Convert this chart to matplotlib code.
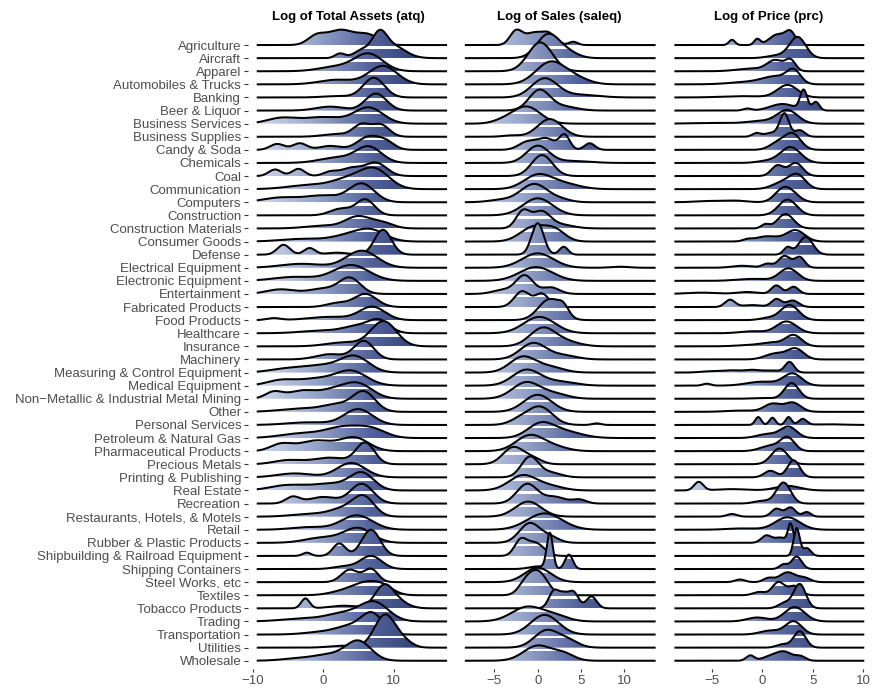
import numpy as np
import matplotlib.pyplot as plt
from matplotlib.colors import LinearSegmentedColormap
from matplotlib.patches import Polygon, Rectangle

plt.rcParams['font.family'] = ['Liberation Sans', 'DejaVu Sans']

industries = [
    "Agriculture", "Aircraft", "Apparel", "Automobiles & Trucks", "Banking",
    "Beer & Liquor", "Business Services", "Business Supplies", "Candy & Soda",
    "Chemicals", "Coal", "Communication", "Computers", "Construction",
    "Construction Materials", "Consumer Goods", "Defense",
    "Electrical Equipment", "Electronic Equipment", "Entertainment",
    "Fabricated Products", "Food Products", "Healthcare", "Insurance",
    "Machinery", "Measuring & Control Equipment", "Medical Equipment",
    "Non\u2212Metallic & Industrial Metal Mining", "Other", "Personal Services",
    "Petroleum & Natural Gas", "Pharmaceutical Products", "Precious Metals",
    "Printing & Publishing", "Real Estate", "Recreation",
    "Restaurants, Hotels, & Motels", "Retail", "Rubber & Plastic Products",
    "Shipbuilding & Railroad Equipment", "Shipping Containers",
    "Steel Works, etc", "Textiles", "Tobacco Products", "Trading",
    "Transportation", "Utilities", "Wholesale",
]

# smoothed density of each industry as bumps: (centre, spread, height in rows)
assets_peaks = [
    [(-1.0, 1.2, 0.6), (2.5, 2.0, 1.15), (6.5, 1.5, 0.7)],
    [(2.4, 0.7, 0.35), (5.6, 1.2, 0.6), (8.0, 1.0, 1.5), (9.8, 1.8, 0.95)],
    [(2.0, 2.5, 0.35), (6.5, 2.0, 1.3)],
    [(2.0, 2.5, 0.35), (8.5, 2.0, 1.4)],
    [(2.0, 2.0, 0.1), (7.2, 1.5, 1.5)],
    [(1.0, 2.0, 0.3), (7.5, 1.5, 1.3)],
    [(-6.0, 2.0, 0.4), (0.0, 3.0, 0.5), (6.5, 2.0, 1.2)],
    [(2.0, 2.0, 0.2), (5.5, 1.2, 0.9), (8.2, 1.2, 0.9)],
    [(-6.5, 1.0, 0.45), (-3.3, 1.0, 0.5), (1.0, 1.5, 0.3), (6.5, 1.6, 1.0), (9.0, 1.2, 0.5)],
    [(2.0, 2.5, 0.4), (6.5, 1.8, 1.2)],
    [(-6.8, 0.9, 0.5), (-3.5, 0.9, 0.55), (1.0, 1.0, 0.3), (4.0, 1.5, 0.6), (7.5, 1.5, 1.0)],
    [(-2.0, 3.0, 0.3), (4.0, 2.5, 0.8), (7.5, 2.0, 1.3)],
    [(-6.0, 2.5, 0.35), (0.0, 2.5, 0.5), (5.5, 1.8, 1.4)],
    [(2.5, 1.5, 0.5), (6.0, 1.3, 1.2)],
    [(0.0, 2.5, 0.2), (5.0, 1.8, 0.9), (8.5, 1.5, 0.4)],
    [(-3.0, 3.0, 0.2), (4.0, 2.5, 0.5), (7.0, 2.0, 0.7)],
    [(-5.6, 0.9, 0.75), (-1.9, 0.8, 0.5), (2.0, 1.5, 0.15), (8.5, 1.2, 1.9)],
    [(-3.0, 3.0, 0.3), (5.5, 2.2, 1.3)],
    [(-4.0, 3.0, 0.3), (4.0, 2.5, 1.2)],
    [(-6.0, 2.0, 0.35), (0.0, 2.0, 0.4), (3.8, 1.5, 1.2)],
    [(2.0, 1.5, 0.3), (6.0, 1.6, 1.0)],
    [(-7.0, 1.0, 0.15), (1.0, 3.0, 0.25), (7.0, 1.8, 1.0)],
    [(0.0, 3.0, 0.2), (5.0, 2.0, 0.5), (8.0, 1.5, 0.9)],
    [(3.0, 2.5, 0.3), (8.6, 1.8, 1.9)],
    [(1.0, 2.0, 0.4), (5.8, 1.4, 1.4)],
    [(-5.0, 2.5, 0.3), (0.0, 2.5, 0.5), (4.5, 2.0, 1.2)],
    [(-6.0, 2.0, 0.4), (-1.0, 2.5, 0.5), (4.0, 2.2, 1.1)],
    [(-7.0, 1.2, 0.5), (-3.0, 2.0, 0.6), (1.5, 2.0, 0.6), (5.0, 2.0, 1.1)],
    [(-3.0, 3.0, 0.25), (2.0, 2.0, 0.5), (5.8, 1.6, 1.5)],
    [(-2.0, 3.0, 0.2), (5.0, 2.0, 1.2)],
    [(-3.0, 3.0, 0.35), (3.0, 2.5, 0.8), (7.0, 2.0, 0.6)],
    [(-6.0, 1.5, 0.5), (-1.0, 2.5, 0.8), (4.5, 2.0, 1.0)],
    [(-5.0, 2.0, 0.3), (1.0, 2.5, 0.5), (6.0, 1.3, 1.6)],
    [(-4.0, 2.5, 0.3), (4.0, 2.0, 1.1)],
    [(-5.0, 2.5, 0.4), (1.0, 2.5, 0.5), (5.5, 1.7, 1.3)],
    [(-4.3, 1.0, 0.5), (0.0, 2.0, 0.5), (5.5, 1.6, 1.5)],
    [(-2.0, 2.5, 0.2), (3.0, 2.0, 0.6), (5.8, 1.5, 1.4)],
    [(-2.0, 2.5, 0.2), (4.8, 2.2, 1.1)],
    [(0.0, 2.5, 0.4), (5.0, 2.0, 1.1)],
    [(-2.3, 0.6, 0.25), (2.3, 0.9, 0.95), (6.8, 1.3, 2.0)],
    [(3.0, 1.5, 0.2), (6.8, 1.5, 1.0)],
    [(3.8, 1.2, 0.95), (6.8, 1.0, 1.0)],
    [(3.0, 2.0, 0.3), (6.0, 1.8, 0.8), (8.5, 1.5, 0.6)],
    [(-2.5, 0.6, 0.75), (3.0, 2.0, 0.2), (8.6, 1.3, 1.6), (10.5, 1.5, 0.5)],
    [(-3.0, 3.0, 0.2), (3.0, 2.5, 0.6), (7.3, 2.0, 1.4)],
    [(0.0, 2.5, 0.2), (4.0, 2.0, 0.6), (7.0, 1.5, 1.5)],
    [(3.0, 2.0, 0.15), (8.8, 1.5, 2.5), (11.5, 1.2, 0.4)],
    [(-3.0, 2.5, 0.2), (1.0, 2.0, 0.4), (5.0, 1.8, 1.5)],
]

sales_peaks = [
    [(-2.5, 0.7, 1.05), (-0.5, 1.0, 0.9), (1.3, 0.8, 0.8), (4.1, 0.5, 0.25)],
    [(1.2, 1.3, 1.8), (3.5, 1.2, 0.4)],
    [(0.3, 1.4, 2.2)],
    [(1.5, 1.7, 1.7), (4.5, 1.5, 0.4)],
    [(0.8, 1.5, 1.45), (5.0, 2.0, 0.2)],
    [(0.2, 1.2, 1.55), (3.0, 1.5, 0.3)],
    [(-4.0, 1.2, 0.2), (-1.3, 1.6, 1.3)],
    [(-3.0, 1.0, 0.1), (1.4, 1.4, 1.35)],
    [(-1.2, 1.0, 0.6), (1.0, 1.0, 0.85), (3.1, 0.6, 1.1), (6.0, 0.6, 0.5)],
    [(0.0, 1.3, 1.3), (4.0, 2.0, 0.15)],
    [(0.5, 1.2, 1.6)],
    [(0.0, 1.6, 1.05), (3.0, 1.8, 0.4)],
    [(-4.0, 1.5, 0.2), (-1.5, 1.2, 0.5), (0.0, 1.3, 1.1), (2.5, 1.2, 0.25)],
    [(0.0, 1.7, 1.3)],
    [(-1.7, 0.8, 1.3), (0.4, 1.0, 1.2), (2.5, 1.5, 0.3)],
    [(-0.5, 1.5, 1.1), (2.0, 1.2, 0.8)],
    [(0.0, 0.7, 2.4), (3.0, 0.5, 0.6)],
    [(0.0, 1.8, 1.1), (9.5, 1.0, 0.08)],
    [(-0.2, 1.9, 1.05)],
    [(-4.0, 1.2, 0.3), (-1.5, 1.0, 1.4), (1.5, 1.0, 0.5)],
    [(-1.8, 0.9, 1.2), (0.5, 0.8, 1.0)],
    [(1.4, 1.3, 1.6), (3.0, 0.6, 0.6)],
    [(0.2, 1.8, 1.25)],
    [(0.6, 1.5, 1.4), (3.5, 1.5, 0.3)],
    [(-0.5, 1.5, 1.25), (3.0, 1.5, 0.3)],
    [(-1.7, 1.5, 1.2), (1.5, 1.5, 0.4)],
    [(-1.3, 1.6, 1.2), (2.5, 1.8, 0.3)],
    [(-1.3, 1.6, 1.25), (2.0, 1.5, 0.35)],
    [(0.0, 1.6, 1.3)],
    [(-2.0, 1.2, 0.4), (0.3, 1.4, 1.35), (6.8, 0.5, 0.12)],
    [(0.3, 1.5, 1.0), (3.0, 2.0, 0.5)],
    [(-0.9, 1.6, 1.2), (2.0, 1.5, 0.3)],
    [(-2.8, 1.2, 1.3), (-0.5, 1.0, 0.4)],
    [(-0.9, 1.0, 1.55), (1.5, 1.2, 0.35)],
    [(-1.7, 1.6, 1.15), (1.5, 1.5, 0.3)],
    [(-1.2, 1.2, 1.5), (2.0, 1.2, 0.5), (4.8, 0.8, 0.3)],
    [(-1.1, 1.5, 1.15)],
    [(0.8, 2.0, 1.25)],
    [(-0.9, 1.2, 1.5), (1.5, 1.0, 0.4)],
    [(-2.0, 0.7, 1.1), (-0.3, 1.0, 1.0)],
    [(0.0, 1.0, 0.2), (1.4, 0.35, 2.7), (3.6, 0.45, 1.1)],
    [(0.0, 1.5, 1.1)],
    [(-1.5, 0.8, 0.6), (0.0, 1.1, 1.8)],
    [(1.9, 0.6, 1.35), (3.0, 0.5, 0.8), (4.1, 0.6, 1.25), (6.2, 0.6, 0.9)],
    [(-1.2, 1.8, 1.1), (2.0, 1.5, 0.4)],
    [(0.8, 1.6, 1.5)],
    [(1.0, 1.4, 1.3), (3.5, 1.2, 0.5)],
    [(0.0, 1.6, 1.15), (3.0, 1.2, 0.5)],
]

price_peaks = [
    [(-3.0, 0.3, 0.4), (-0.5, 0.3, 0.45), (1.5, 0.8, 0.8), (2.8, 0.5, 0.9)],
    [(1.5, 1.0, 0.2), (3.5, 0.8, 1.6)],
    [(-1.0, 1.5, 0.2), (1.3, 0.8, 0.8), (2.8, 0.5, 0.8)],
    [(-1.0, 2.0, 0.2), (1.3, 1.2, 0.5), (3.1, 0.7, 1.0)],
    [(-2.0, 2.0, 0.1), (2.5, 1.0, 0.95)],
    [(-1.5, 0.4, 0.15), (2.0, 1.2, 0.5), (4.1, 0.35, 1.5), (5.3, 0.35, 0.65)],
    [(-5.0, 2.0, 0.05), (0.0, 1.5, 0.2), (2.5, 1.0, 1.0)],
    [(-0.6, 0.4, 0.25), (1.0, 0.8, 0.3), (2.2, 0.45, 1.7), (3.7, 0.5, 0.5)],
    [(1.5, 0.8, 0.5), (3.0, 0.8, 1.2)],
    [(0.5, 1.0, 0.15), (2.8, 1.0, 1.2)],
    [(1.5, 0.6, 0.8), (3.3, 0.7, 1.0)],
    [(2.0, 1.0, 0.5), (3.5, 0.8, 1.0)],
    [(-5.0, 1.5, 0.1), (-2.5, 1.0, 0.1), (2.0, 0.8, 0.9), (3.0, 0.8, 0.5)],
    [(2.5, 0.9, 1.2)],
    [(0.3, 0.4, 0.3), (2.3, 0.8, 1.1)],
    [(-1.5, 0.4, 0.12), (0.5, 1.2, 0.4), (3.3, 0.9, 0.85)],
    [(2.5, 0.4, 0.55), (4.3, 0.7, 1.35)],
    [(-2.0, 1.0, 0.15), (0.5, 0.5, 0.3), (2.2, 0.6, 0.9), (3.7, 0.5, 0.8)],
    [(-1.0, 1.5, 0.15), (2.6, 0.9, 0.95)],
    [(-6.0, 1.5, 0.1), (-1.5, 1.0, 0.15), (1.4, 0.5, 0.65), (3.1, 0.5, 0.55)],
    [(-3.2, 0.5, 0.55), (-1.0, 1.0, 0.15), (1.4, 0.5, 0.6), (3.0, 0.6, 0.5)],
    [(0.5, 0.8, 0.15), (2.7, 0.9, 1.15)],
    [(-1.0, 1.2, 0.15), (2.4, 1.0, 0.9)],
    [(-1.0, 1.5, 0.1), (1.0, 1.0, 0.25), (3.1, 0.8, 0.85)],
    [(1.3, 1.0, 0.45), (3.3, 0.8, 0.8)],
    [(-5.0, 1.0, 0.1), (-3.0, 0.8, 0.15), (-1.0, 0.8, 0.2), (1.0, 0.8, 0.15), (2.7, 0.45, 0.8)],
    [(-5.5, 0.4, 0.15), (0.0, 1.5, 0.3), (3.0, 0.9, 0.9)],
    [(0.0, 1.0, 0.05), (2.9, 0.7, 1.2)],
    [(-2.0, 1.5, 0.1), (1.0, 0.8, 0.6), (3.0, 0.8, 0.7)],
    [(-0.4, 0.3, 0.6), (1.0, 0.3, 0.55), (2.6, 0.3, 0.6), (4.0, 0.4, 0.45), (6.5, 1.5, 0.05)],
    [(0.5, 1.0, 0.3), (2.6, 0.8, 0.85)],
    [(0.8, 1.0, 0.4), (2.5, 0.7, 1.0)],
    [(1.7, 0.8, 1.2)],
    [(0.8, 0.6, 0.5), (3.1, 0.6, 1.3)],
    [(-6.3, 0.45, 0.65), (-3.0, 1.5, 0.1), (2.5, 1.2, 0.35)],
    [(0.0, 0.8, 0.2), (2.1, 0.7, 1.6)],
    [(-3.0, 0.5, 0.2), (1.4, 0.5, 0.6), (2.8, 0.5, 0.7), (4.4, 0.4, 0.35)],
    [(-2.0, 1.5, 0.1), (2.5, 1.2, 0.95)],
    [(0.4, 0.5, 0.55), (1.8, 0.6, 0.4), (2.8, 0.25, 1.4)],
    [(3.4, 0.3, 2.1), (4.4, 0.4, 0.6)],
    [(2.1, 0.4, 0.35), (3.4, 0.5, 0.95)],
    [(-2.2, 0.5, 0.2), (0.6, 0.5, 0.3), (2.5, 0.8, 0.75), (4.2, 0.6, 0.3)],
    [(-0.3, 0.6, 0.25), (1.6, 0.6, 1.0), (3.2, 0.6, 0.7)],
    [(2.2, 0.6, 0.4), (3.7, 0.6, 1.85)],
    [(-0.5, 1.0, 0.3), (3.2, 1.0, 1.1)],
    [(0.8, 1.0, 0.3), (3.1, 0.8, 1.0)],
    [(2.0, 0.6, 0.25), (3.7, 0.6, 1.25)],
    [(-1.2, 0.4, 0.4), (0.8, 0.8, 0.3), (2.2, 0.8, 0.65), (3.8, 0.5, 0.3)],
]

titles = ["Log of Total Assets (atq)", "Log of Sales (saleq)", "Log of Price (prc)"]
spans = [(-9.4, 17.6), (-8.4, 13.6), (-8.7, 10.1)]
xticks = [[-10, 0, 10], [-5, 0, 5, 10], [-5, 0, 5, 10]]

W, H = 878, 691
# panel edges in pixels and the x range each one shows
boxes = [(248, 448), (462, 657), (671, 866)]
xlims = [(-10.64, 17.73), (-8.73, 13.76), (-9.04, 10.27)]
top_px, bot_px = 22, 669
ylim = (-0.63, 48.76)

line_w = 1.45
gap_h = 0.19  # white strip under each ridge line, in rows

cmap = LinearSegmentedColormap.from_list(
    "ridge", [(0.0, "#d0d8ec"), (0.3, "#98a6cb"), (0.6, "#52629a"), (1.0, "#1f2d5c")])

fig = plt.figure(figsize=(W / 100, H / 100), dpi=100)
n = len(industries)

for p, (title, peaks, span) in enumerate(zip(titles, [assets_peaks, sales_peaks, price_peaks], spans)):
    left, right = boxes[p]
    ax = fig.add_axes([left / W, (H - bot_px) / H, (right - left) / W, (bot_px - top_px) / H])
    xs = np.linspace(span[0], span[1], 800)
    grad = np.linspace(0, 1, 256).reshape(1, -1)
    half = line_w / 72 * 100 / 2 / ((bot_px - top_px) / (ylim[1] - ylim[0]))

    for k, bumps in enumerate(peaks):
        base = n - 1 - k
        dens = np.zeros_like(xs)
        for c, s, h in bumps:
            dens += h * np.exp(-0.5 * ((xs - c) / s) ** 2)
        ys = base + dens
        z = 10 + 3 * k

        outline = np.column_stack([np.r_[xs, xs[::-1]], np.r_[ys, np.full_like(xs, base)]])
        clip = Polygon(outline, closed=True, transform=ax.transData)
        im = ax.imshow(grad, cmap=cmap, aspect="auto", origin="lower",
                       extent=(span[0], span[1], base, ys.max() + 0.02),
                       interpolation="bilinear", zorder=z)
        im.set_clip_path(clip)

        # thin white gap left under the ridge line above
        if k > 0:
            gap = Rectangle((span[0], base + 1 - half - gap_h), span[1] - span[0], gap_h,
                            facecolor="white", edgecolor="none", zorder=z + 1)
            ax.add_patch(gap)
            gap.set_clip_path(clip)

        ax.plot(xs, ys, color="black", lw=line_w, zorder=z + 2, solid_capstyle="butt")

    ax.set_xlim(*xlims[p])
    ax.set_ylim(*ylim)
    for sp in ax.spines.values():
        sp.set_visible(False)
    ax.set_xticks(xticks[p])
    ax.set_xticklabels([f"{t}".replace("-", "\u2212") for t in xticks[p]])
    ax.tick_params(axis="x", length=2.2, width=0.8, color="#333333",
                   labelcolor="#4d4d4d", labelsize=9.5, pad=2)
    if p == 0:
        ax.set_yticks(np.arange(n))
        ax.set_yticklabels(industries[::-1])
        ax.tick_params(axis="y", length=2.9, width=0.8, color="#333333",
                       labelcolor="#4d4d4d", labelsize=9.5, pad=2)
    else:
        ax.set_yticks([])
    fig.text((left + right) / 2 / W, 1 - 17 / H, title, ha="center", va="center",
             fontsize=9.5, fontweight="bold")

fig.savefig("out.png", dpi=100)
